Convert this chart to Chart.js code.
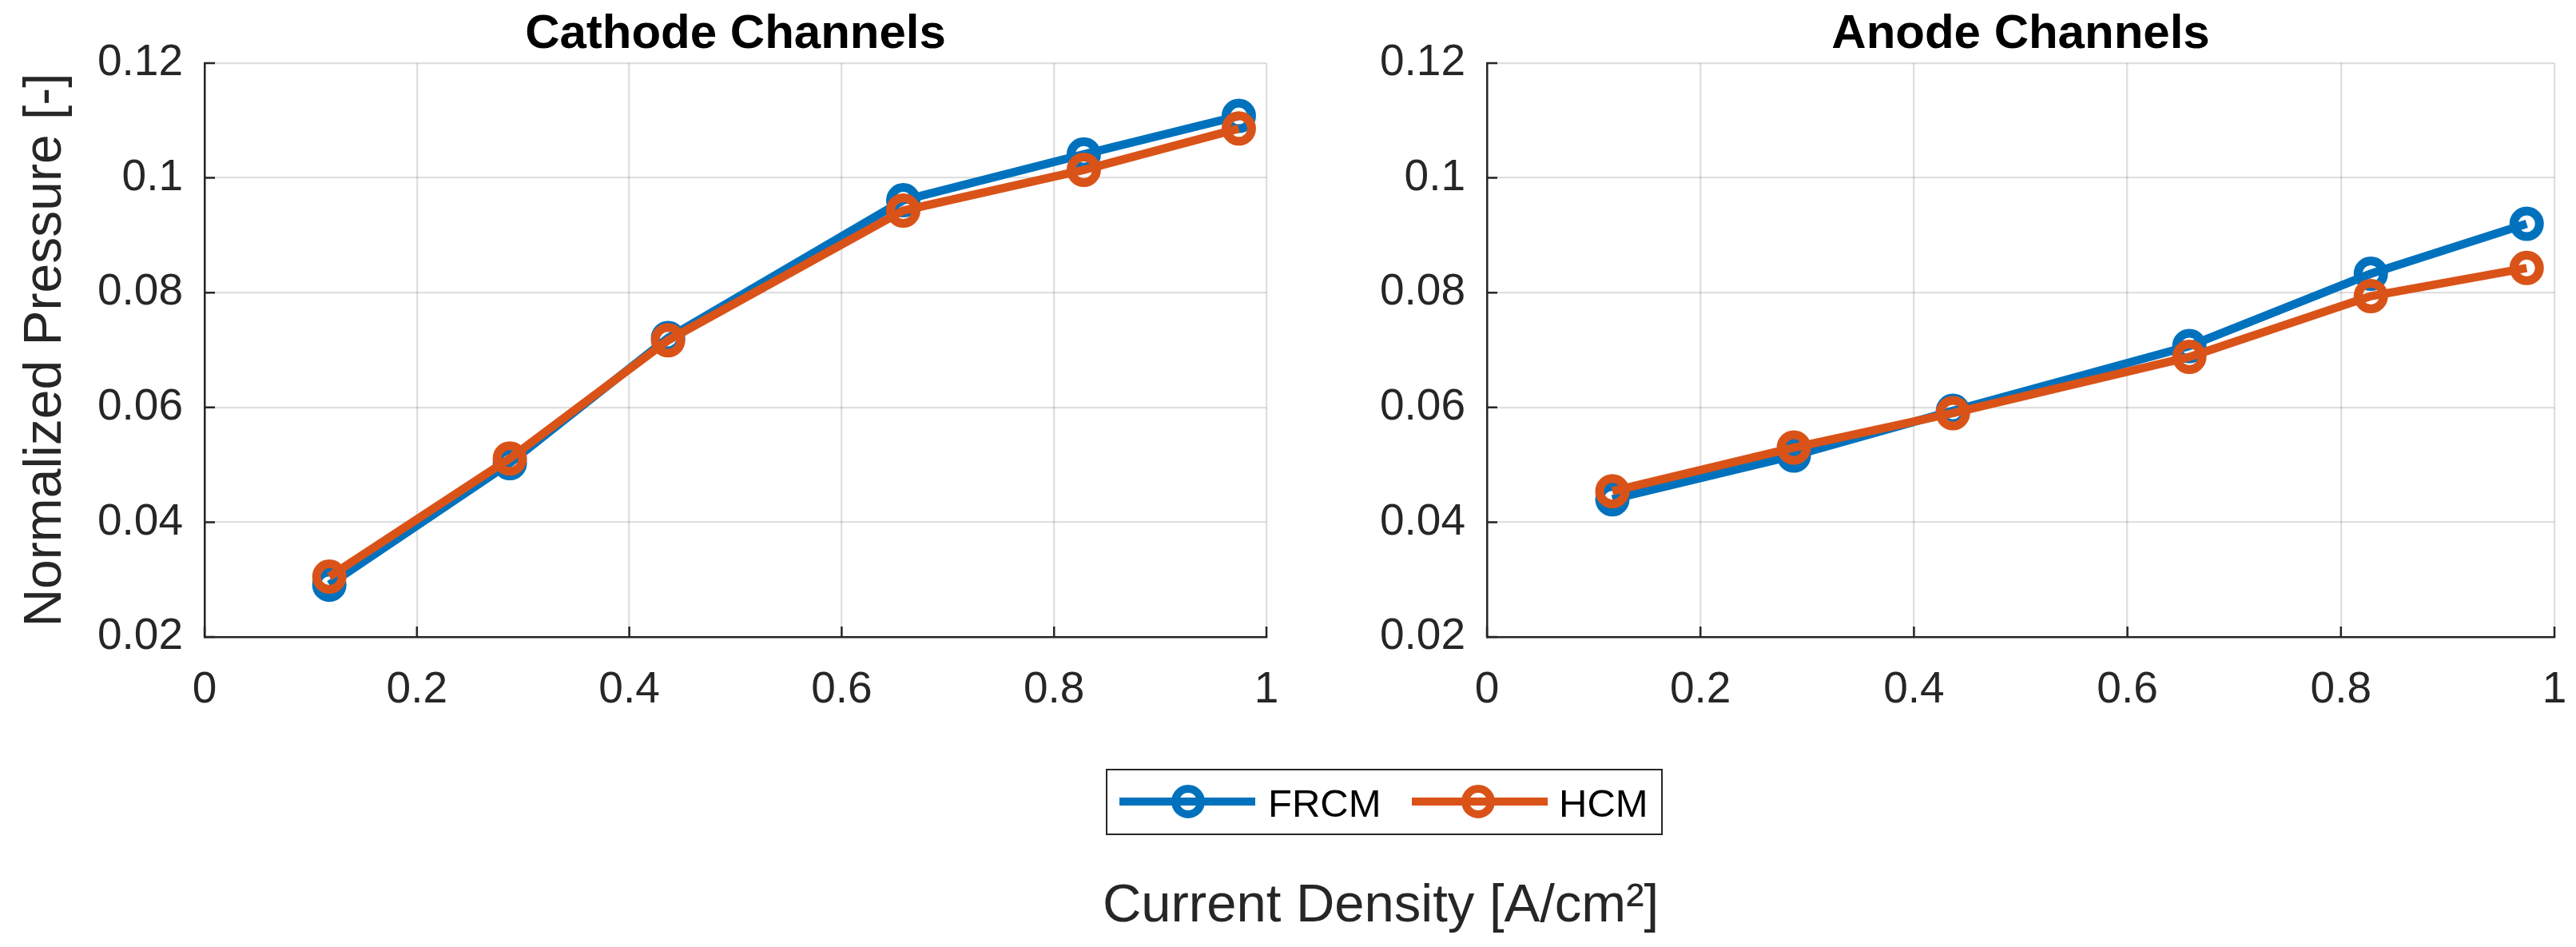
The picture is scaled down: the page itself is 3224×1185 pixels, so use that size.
<!DOCTYPE html>
<html>
<head>
<meta charset="utf-8">
<script src="https://cdn.jsdelivr.net/npm/chart.js@4"></script>
<style>
  body { margin: 0; width: 3224px; height: 1185px; background: #fff; overflow: hidden; position: relative;
         font-family: "Liberation Sans", Arial, Helvetica, sans-serif; color: #262626; }
  canvas { position: absolute; top: 0; }
  .abs { position: absolute; }
  .leg-line { position: absolute; height: 10px; }
  .leg-dot { position: absolute; width: 42px; height: 42px; box-sizing: border-box; border-radius: 50%;
             border: 10.5px solid; background: transparent; }
  .leg-text { position: absolute; font-size: 49px; line-height: 49px; color: #000; white-space: nowrap; }
</style>
</head>
<body>
<canvas id="cathode" width="1612" height="900" style="left:0;width:1612px;height:900px"></canvas>
<canvas id="anode" width="1612" height="900" style="left:1612px;width:1612px;height:900px"></canvas>

<div class="abs" style="left:1384px;top:962px;width:697px;height:83px;box-sizing:border-box;border:2px solid #262626;background:#fff"></div>
<div class="leg-line" style="left:1401px;top:998px;width:170px;background:#0072BD"></div>
<div class="leg-dot" style="left:1466px;top:982px;border-color:#0072BD"></div>
<div class="leg-text" style="left:1587px;top:981px">FRCM</div>
<div class="leg-line" style="left:1767px;top:998px;width:170px;background:#D95319"></div>
<div class="leg-dot" style="left:1829px;top:982px;border-color:#D95319"></div>
<div class="leg-text" style="left:1951px;top:981px">HCM</div>

<div class="abs" style="left:1228px;width:1000px;top:1096px;text-align:center;font-size:67px;line-height:67px;white-space:nowrap">Current Density [A/cm²]</div>

<script>
const currentDensity = [0.1175, 0.2875, 0.4365, 0.658, 0.828, 0.974];
const cathodeFRCM = [0.0291, 0.0503, 0.0721, 0.0961, 0.1041, 0.1108];
const cathodeHCM = [0.0305, 0.0511, 0.0717, 0.0943, 0.1014, 0.1086];
const anodeFRCM = [0.0440, 0.0516, 0.0594, 0.0707, 0.0833, 0.0920];
const anodeHCM = [0.0454, 0.0530, 0.0590, 0.0688, 0.0794, 0.0843];
const xTickLabels = ['0', '0.2', '0.4', '0.6', '0.8', '1'];
const yTickLabels = ['0.02', '0.04', '0.06', '0.08', '0.1', '0.12'];

const FONT = '"Liberation Sans", Arial, Helvetica, sans-serif';
const INK = '#262626';

// MATLAB-style inward tick marks on the left and bottom axes
const inwardTicks = {
  id: 'inwardTicks',
  beforeDatasetsDraw(chart) {
    const { ctx, chartArea: a, scales: { x, y } } = chart;
    ctx.save();
    ctx.strokeStyle = INK;
    ctx.lineWidth = 2.5;
    ctx.beginPath();
    y.ticks.forEach(t => {
      const p = y.getPixelForValue(t.value);
      ctx.moveTo(a.left, p); ctx.lineTo(a.left + 13, p);
    });
    x.ticks.forEach(t => {
      const p = x.getPixelForValue(t.value);
      ctx.moveTo(p, a.bottom); ctx.lineTo(p, a.bottom - 13);
    });
    ctx.stroke();
    ctx.restore();
  }
};

function series(label, ys, color, order) {
  return {
    label,
    data: currentDensity.map((x, i) => ({ x, y: ys[i] })),
    borderColor: color,
    borderWidth: 10.5,
    pointRadius: 16,
    pointBorderWidth: 11,
    pointBorderColor: color,
    pointBackgroundColor: 'rgba(0,0,0,0)',
    pointHoverRadius: 16,
    tension: 0,
    order
  };
}

function makePanel(id, title, frcm, hcm, yWidth, padRight, yTitle) {
  new Chart(document.getElementById(id), {
    type: 'line',
    data: {
      datasets: [
        series('FRCM', frcm, '#0072BD', 1),
        series('HCM', hcm, '#D95319', 0)
      ]
    },
    options: {
      responsive: false,
      animation: false,
      devicePixelRatio: 1,
      layout: { padding: { left: 0, right: padRight, top: 0, bottom: 13 } },
      plugins: {
        legend: { display: false },
        tooltip: { enabled: false },
        title: {
          display: true, text: title, color: '#000', fullSize: false,
          font: { family: FONT, size: 60, weight: 'bold' },
          padding: { top: 7, bottom: 0 }
        }
      },
      scales: {
        x: {
          type: 'linear', min: 0, max: 1,
          afterBuildTicks: s => { s.ticks = xTickLabels.map(l => ({ value: parseFloat(l) })); },
          afterFit: s => { s.height = 90; s.paddingLeft = 0; s.paddingRight = 0; },
          ticks: {
            padding: 34, color: INK, maxRotation: 0, autoSkip: false,
            font: { family: FONT, size: 55 },
            callback: (v, i) => xTickLabels[i]
          },
          grid: { color: 'rgba(38,38,38,0.15)', lineWidth: 2.3, drawTicks: false },
          border: { display: true, color: INK, width: 2.5 }
        },
        y: {
          type: 'linear', min: 0.02, max: 0.12,
          afterBuildTicks: s => { s.ticks = yTickLabels.map(l => ({ value: parseFloat(l) })); },
          afterFit: s => { s.width = yWidth; },
          ticks: {
            padding: 27, color: INK, autoSkip: false,
            font: { family: FONT, size: 55 },
            callback: (v, i) => yTickLabels[i]
          },
          grid: { color: 'rgba(38,38,38,0.15)', lineWidth: 2.3, drawTicks: false },
          border: { display: true, color: INK, width: 2.5 },
          title: {
            display: !!yTitle, text: yTitle || '', color: INK,
            font: { family: FONT, size: 66 },
            padding: { top: 18, bottom: 0 }
          }
        }
      }
    },
    plugins: [inwardTicks]
  });
}

makePanel('cathode', 'Cathode Channels', cathodeFRCM, cathodeHCM, 256, 16, 'Normalized Pressure [-]');
makePanel('anode', 'Anode Channels', anodeFRCM, anodeHCM, 249, 22, null);
</script>
</body>
</html>
